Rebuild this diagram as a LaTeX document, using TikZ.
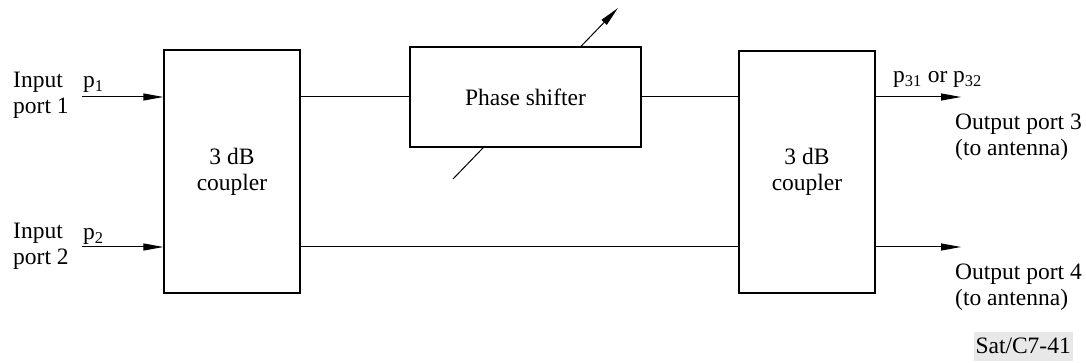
\documentclass[tikz,border=0pt]{standalone}
\usepackage{fontspec}
\setmainfont{Liberation Serif}
\usetikzlibrary{arrows.meta}
\begin{document}
\begin{tikzpicture}[x=1pt,y=-1pt,
  every node/.style={font=\fontsize{23.5}{26}\selectfont},
  blockbox/.style={draw, line width=1.2pt, fill=white, inner sep=0pt, align=center},
  wire/.style={line width=1pt},
  arr/.style={line width=1pt, -{Triangle[length=20pt,width=7pt]}},
  lbl/.style={inner sep=0pt, align=left}]
\useasboundingbox (0,0) rectangle (1086,363);
% tuning arrow (behind the phase shifter)
\coordinate (d1) at (453,179);
\coordinate (d2) at (618,8);
\draw[arr] (d1) -- (d2);
% blocks
\node[blockbox, minimum width=136pt, minimum height=243pt] (cL) at (232,171.5) {3 dB\\coupler};
\node[blockbox, minimum width=136pt, minimum height=242pt] (cR) at (807,172) {3 dB\\coupler};
\node[blockbox, minimum width=231pt, minimum height=100pt] (ps) at (525.5,97) {Phase shifter};
% ports
\coordinate (in1) at (82,97);
\coordinate (in2) at (82,247);
\coordinate (out3) at (961,97);
\coordinate (out4) at (961,247);
\draw[arr] (in1) -- (in1 -| cL.west);
\draw[arr] (in2) -- (in2 -| cL.west);
\draw[wire] (cL.east |- ps.west) -- (ps.west);
\draw[wire] (ps.east) -- (ps.east -| cR.west);
\draw[wire] (in2 -| cL.east) -- (in2 -| cR.west);
\draw[arr] (out3 -| cR.east) -- (out3);
\draw[arr] (out4 -| cR.east) -- (out4);
% labels
\node[lbl, anchor=west] (t1) at (13,95) {Input\\port 1};
\node[lbl, anchor=west] (t2) at (13,246) {Input\\port 2};
\node[inner sep=0pt, anchor=base west] (p1) at (83,88) {p\textsubscript{1}};
\node[inner sep=0pt, anchor=base west] (p2) at (83,240) {p\textsubscript{2}};
\node[inner sep=0pt, anchor=base west] (p3) at (893,83) {p\textsubscript{31} or p\textsubscript{32}};
\node[lbl, anchor=west] (o3) at (955,137) {Output port 3\\(to antenna)};
\node[lbl, anchor=west] (o4) at (955,287) {Output port 4\\(to antenna)};
\node[fill=black!9, inner xsep=2pt, inner ysep=0pt, minimum height=29pt, anchor=east] (ref) at (1073,346) {Sat/C7-41};
\end{tikzpicture}
\end{document}
